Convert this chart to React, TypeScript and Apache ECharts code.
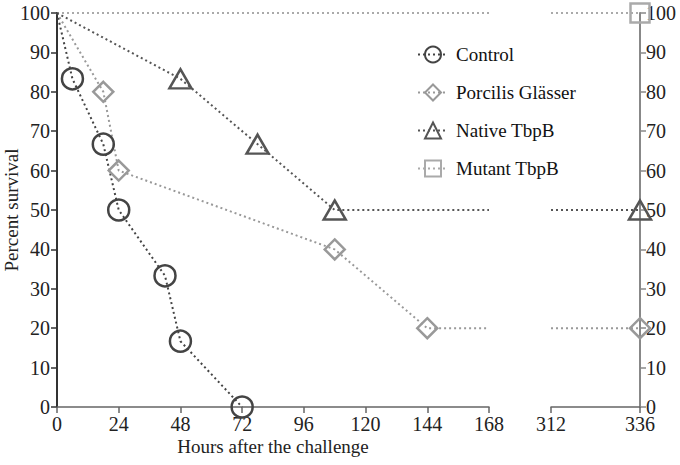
import React, { useEffect, useRef } from "react";
import * as echarts from "echarts";

const seriesNames = ["Control", "Porcilis Glässer", "Native TbpB", "Mutant TbpB"];

// Left segment (0–168 h)
const controlX = [0, 6, 18, 24, 42, 48, 72];
const controlY = [100, 83.3, 66.7, 50, 33.3, 16.7, 0];
const controlMarked = [false, true, true, true, true, true, true];

const porcilisX = [0, 18, 24, 108, 144, 168];
const porcilisY = [100, 80, 60, 40, 20, 20];
const porcilisMarked = [false, true, true, true, true, false];

const nativeX = [0, 48, 78, 108, 168];
const nativeY = [100, 83.3, 66.7, 50, 50];
const nativeMarked = [false, true, true, true, false];

const mutantX = [0, 168];
const mutantY = [100, 100];
const mutantMarked = [false, false];

// Right segment (312–336 h)
const rightX = [312, 336];
const porcilisRightY = [20, 20];
const nativeRightY = [50, 50];
const mutantRightY = [100, 100];
const rightMarked = [false, true];

const leftXTicks = { min: 0, max: 168, interval: 24 };
const rightXTicks = { min: 312, max: 336, interval: 24 };
const yTicks = { min: 0, max: 100, interval: 10 };

const FONT = "'Liberation Serif', 'Times New Roman', serif";

function build(xs: number[], ys: number[], marked: boolean[]) {
  return xs.map((x, i) =>
    marked[i] ? { value: [x, ys[i]] } : { value: [x, ys[i]], symbol: "none" }
  );
}

const styles: Record<string, any> = {
  Control: { color: "#444", symbol: "circle", size: 21 },
  "Porcilis Glässer": { color: "#999", symbol: "diamond", size: [20, 20] },
  "Native TbpB": { color: "#555", symbol: "triangle", size: [22, 19] },
  "Mutant TbpB": { color: "#aaa", symbol: "rect", size: [19, 19] },
};

function mkSeries(name: string, data: any[], gridIdx: number) {
  const s = styles[name];
  return {
    type: "line",
    name,
    xAxisIndex: gridIdx,
    yAxisIndex: gridIdx,
    data,
    clip: false,
    symbol: s.symbol,
    symbolSize: s.size,
    showAllSymbol: true,
    lineStyle: { color: s.color, width: 2, type: [2, 3] },
    itemStyle: { color: "rgba(255,255,255,0)", borderColor: s.color, borderWidth: 2.5 },
    emphasis: { disabled: true },
  };
}

export default function App() {
  const ref = useRef<HTMLDivElement>(null);
  useEffect(() => {
    const chart = echarts.init(ref.current!, null, { renderer: "svg" });
    const axisText = { color: "#222", fontFamily: FONT, fontSize: 20 };
    chart.setOption({
      animation: false,
      textStyle: { fontFamily: FONT },
      legend: {
        data: seriesNames,
        left: 412,
        top: 40,
        orient: "vertical",
        itemWidth: 30,
        itemHeight: 20,
        itemGap: 19,
        textStyle: { color: "#111", fontFamily: FONT, fontSize: 19, padding: [0, 0, 0, 3] },
      },
      grid: [
        { left: 57, top: 13, width: 432, height: 394, outerBoundsMode: "none", containLabel: false },
        { left: 551, top: 13, width: 89, height: 394, outerBoundsMode: "none", containLabel: false },
      ],
      xAxis: [
        {
          gridIndex: 0,
          type: "value",
          ...leftXTicks,
          name: "Hours after the challenge",
          nameLocation: "middle",
          nameGap: 30,
          nameMoveOverlap: false,
          nameTextStyle: { ...axisText, fontSize: 19 },
          axisLine: { lineStyle: { color: "#666", width: 1.5 } },
          axisTick: { show: true, length: 6, lineStyle: { color: "#666", width: 1.5 } },
          axisLabel: { ...axisText, margin: 7 },
          splitLine: { show: false },
        },
        {
          gridIndex: 1,
          type: "value",
          ...rightXTicks,
          axisLine: { lineStyle: { color: "#666", width: 1.5 } },
          axisTick: { show: true, length: 6, lineStyle: { color: "#666", width: 1.5 } },
          axisLabel: { ...axisText, margin: 7 },
          splitLine: { show: false },
        },
      ],
      yAxis: [
        {
          gridIndex: 0,
          type: "value",
          ...yTicks,
          name: "Percent survival",
          nameLocation: "middle",
          nameGap: 36,
          nameMoveOverlap: false,
          nameTextStyle: { ...axisText, fontSize: 19 },
          axisLine: { show: true, lineStyle: { color: "#333", width: 2 } },
          axisTick: { show: true, length: 6, lineStyle: { color: "#333", width: 1.5 } },
          axisLabel: { ...axisText, margin: 7 },
          splitLine: { show: false },
        },
        {
          gridIndex: 1,
          type: "value",
          position: "right",
          ...yTicks,
          axisLine: { show: true, lineStyle: { color: "#888", width: 2 } },
          axisTick: { show: true, length: 6, lineStyle: { color: "#888", width: 1.5 } },
          axisLabel: { ...axisText, margin: 6 },
          splitLine: { show: false },
        },
      ],
      series: [
        mkSeries("Mutant TbpB", build(mutantX, mutantY, mutantMarked), 0),
        mkSeries("Mutant TbpB", build(rightX, mutantRightY, rightMarked), 1),
        mkSeries("Porcilis Glässer", build(porcilisX, porcilisY, porcilisMarked), 0),
        mkSeries("Porcilis Glässer", build(rightX, porcilisRightY, rightMarked), 1),
        mkSeries("Native TbpB", build(nativeX, nativeY, nativeMarked), 0),
        mkSeries("Native TbpB", build(rightX, nativeRightY, rightMarked), 1),
        mkSeries("Control", build(controlX, controlY, controlMarked), 0),
      ],
    });
    return () => chart.dispose();
  }, []);
  return (
    <div
      ref={ref}
      style={{ position: "absolute", left: 0, top: 0, width: 680, height: 465, background: "#fff" }}
    />
  );
}
